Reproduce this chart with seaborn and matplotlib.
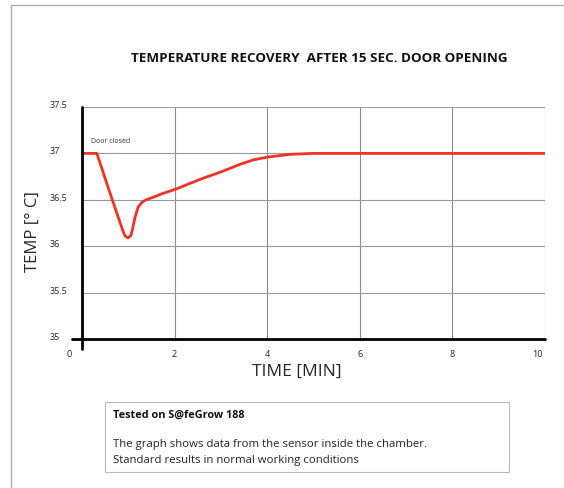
import matplotlib
matplotlib.use("Agg")
import matplotlib.pyplot as plt
import matplotlib.transforms as mtrans
import seaborn as sns
import pandas as pd
from matplotlib.lines import Line2D
from matplotlib.patches import Rectangle

# ---- data ----
time_min = [0.0, 0.32, 0.60, 0.88, 0.93, 0.99, 1.05, 1.09, 1.14, 1.21, 1.29, 1.38,
            1.55, 1.75, 2.0, 2.3, 2.6, 3.0, 3.4, 3.7, 4.0, 4.5, 5.0, 6.0, 8.0, 10.0]
temp_c = [37.0, 37.0, 36.58, 36.17, 36.11, 36.09, 36.11, 36.18, 36.30, 36.42, 36.47, 36.50,
          36.53, 36.57, 36.61, 36.67, 36.73, 36.80, 36.88, 36.93, 36.96, 36.99, 37.0, 37.0, 37.0, 37.0]
x_ticks = [0, 2, 4, 6, 8, 10]
y_ticks = [35, 35.5, 36, 36.5, 37, 37.5]
y_tick_labels = ["35", "35.5", "36", "36.5", "37", "37.5"]

title = "TEMPERATURE RECOVERY  AFTER 15 SEC. DOOR OPENING"
xlabel = "TIME [MIN]"
ylabel = "TEMP [° C]"
note_title = "Tested on S@feGrow 188"
note_lines = ["The graph shows data from the sensor inside the chamber.",
              "Standard results in normal working conditions"]
annot = "Door closed"

df = pd.DataFrame({"time": time_min, "temp": temp_c})

sns.set_style("white")
plt.rcParams["font.family"] = ["Open Sans", "DejaVu Sans"]

W, H = 564, 488
fig = plt.figure(figsize=(W / 100, H / 100), dpi=100)
ax = fig.add_axes([82 / W, 1 - 339 / H, (545 - 82) / W, (339 - 107) / H])

# page frame lines
fig.add_artist(Line2D([11 / W, 1], [1 - 5 / H, 1 - 5 / H], transform=fig.transFigure,
                      color="#b0b0b0", lw=1))
fig.add_artist(Line2D([11 / W, 11 / W], [0, 1 - 5 / H], transform=fig.transFigure,
                      color="#b0b0b0", lw=1))

ax.set_xlim(0, 10)
ax.set_ylim(35, 37.5)

# grid
for xv in x_ticks[1:]:
    ax.axvline(xv, color="#8a8a8a", lw=0.8, zorder=1)
for yv in y_ticks[1:]:
    ax.axhline(yv, color="#9a9a9a", lw=0.8, zorder=1)

sns.lineplot(data=df, x="time", y="temp", ax=ax, color="#ee3322", lw=2.0, zorder=3)

for s in ax.spines.values():
    s.set_visible(False)

# main axis lines (cross slightly beyond origin)
ax.add_artist(Line2D([-10 / 463, 1.0], [0, 0], transform=ax.transAxes, color="black",
                     lw=2.0, clip_on=False, zorder=4))
ax.add_artist(Line2D([0, 0], [-10 / 232, 1.0], transform=ax.transAxes, color="black",
                     lw=2.0, clip_on=False, zorder=4))

ax.set_xticks(x_ticks)
ax.set_xticklabels([str(v) for v in x_ticks])
ax.set_yticks(y_ticks)
ax.set_yticklabels(y_tick_labels)
ax.tick_params(axis="both", length=0, labelsize=6.5, colors="#222222")
ax.tick_params(axis="x", pad=8)
ax.tick_params(axis="y", pad=23)
for lab in ax.get_yticklabels():
    lab.set_horizontalalignment("left")
    lab.set_transform(lab.get_transform() +
                      mtrans.ScaledTranslation(0, 2.5 / 100, fig.dpi_scale_trans))
xl = ax.get_xticklabels()
xl[0].set_transform(xl[0].get_transform() +
                    mtrans.ScaledTranslation(-13 / 100, 0, fig.dpi_scale_trans))
xl[-1].set_transform(xl[-1].get_transform() +
                     mtrans.ScaledTranslation(-8 / 100, 0, fig.dpi_scale_trans))

ax.set_xlabel(xlabel, fontsize=12.5, va="center")
ax.xaxis.set_label_coords((297 - 82) / 463, (339 - 372) / 232)
ax.set_ylabel(ylabel, fontsize=12, va="center")
ax.yaxis.set_label_coords((33 - 82) / 463, (339 - 232) / 232)

fig.text(319 / W, 1 - 58 / H, title, ha="center", va="center", fontsize=9.7,
         fontweight="bold", color="#111111")

ax.text(0.2, 37.13, annot, fontsize=5, color="#333333", ha="left", va="center")

# note box
fig.add_artist(Rectangle((105 / W, 1 - 472 / H), (509 - 105) / W, (472 - 402) / H,
                         transform=fig.transFigure, fill=False, edgecolor="#b8b8b8", lw=0.8))
fig.text(113 / W, 1 - 415 / H, note_title, fontsize=7.8, fontweight="bold", va="center",
         color="#111111")
fig.text(113 / W, 1 - 444 / H, note_lines[0], fontsize=8.2, va="center", color="#222222")
fig.text(113 / W, 1 - 461 / H, note_lines[1], fontsize=8.2, va="center", color="#222222")

fig.savefig("out.png", dpi=100, facecolor="white")
